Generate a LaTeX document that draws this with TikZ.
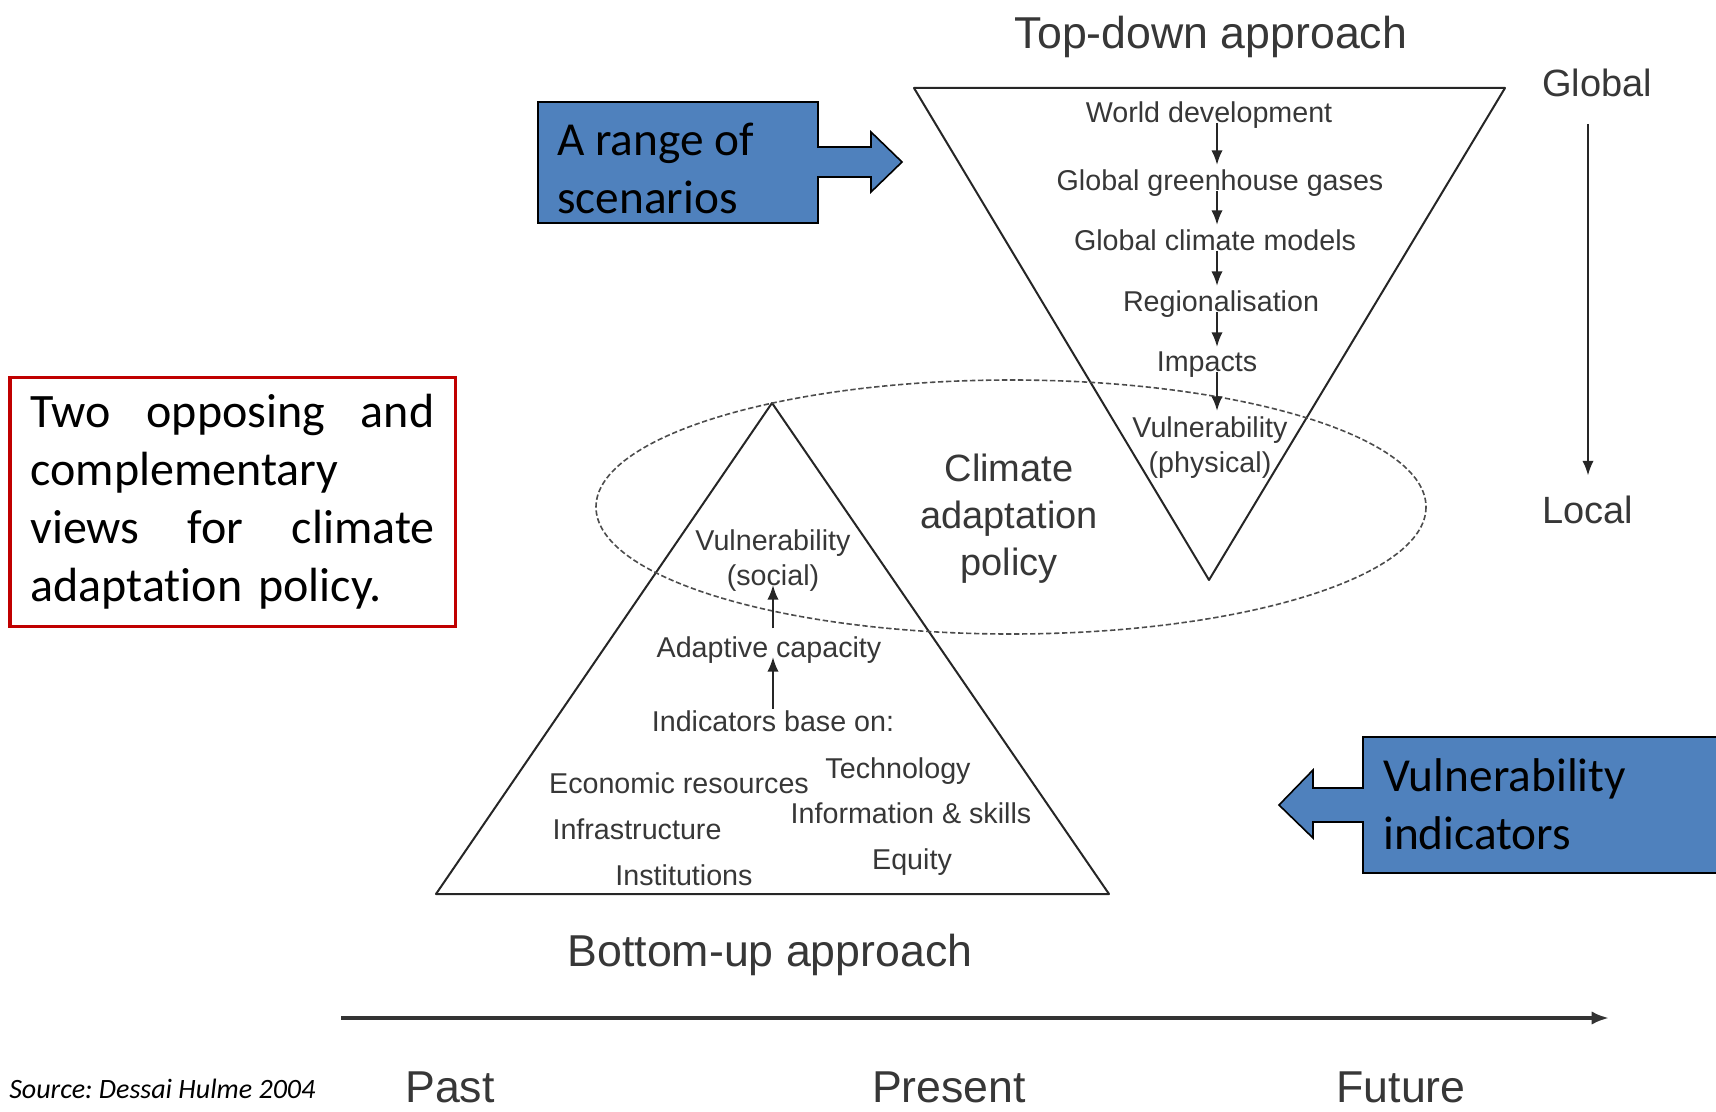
\documentclass[tikz,border=0pt]{standalone}
\usepackage{fontspec}
\setmainfont{Liberation Sans}
\newfontfamily\calibri[Ligatures=NoCommon]{Carlito}
\usepackage{tikz}
\usetikzlibrary{arrows.meta}

\definecolor{scanink}{RGB}{55,55,55}
\definecolor{boxblue}{RGB}{79,129,189}
\definecolor{boxred}{RGB}{192,0,0}

\begin{document}
\frenchspacing
\begin{tikzpicture}[x=0.75pt,y=0.75pt,yscale=-1,xscale=1,
  lab/.style={inner sep=0.75pt, text=scanink, font=\fontsize{21.5}{26}\selectfont},
  big/.style={inner sep=0.75pt, text=scanink, font=\fontsize{33.5}{40}\selectfont},
  mid/.style={inner sep=0.75pt, text=scanink, font=\fontsize{28.5}{35.3}\selectfont},
  flow/.style={-{Latex[length=11pt,width=8.5pt]}, line width=1.5pt, draw=black!85},
  callout/.style={fill=boxblue, draw=black, line width=1.2pt},
  note/.style={inner sep=0pt, align=left, font=\calibri\fontsize{35.5}{43.5}\selectfont},
  redbox/.style={draw=boxred, line width=2.5pt, minimum width=334pt, minimum height=187pt,
    text width=303pt, align=left, font=\calibri\fontsize{36}{43.5}\selectfont}
]
\useasboundingbox (0,0) rectangle (1716,1112);

%Shape: Triangle top-down
\draw [line width=1.5pt, black!85, line join=round] (914,88) -- (1505,88) -- (1209,580) -- cycle ;
%Shape: Triangle bottom-up
\draw [line width=1.5pt, black!85, line join=round] (772,403) -- (1109,894) -- (436,894) -- cycle ;
%Shape: Ellipse dashed
\draw [line width=1.2pt, black!70, dash pattern=on 4pt off 2pt] (1011,507) ellipse [x radius=415, y radius=127] ;

%Shape: Right arrow callout
\draw [callout] (538,102) -- (818,102) -- (818,147) -- (871,147) -- (871,132) -- (902,162) -- (871,192) -- (871,177) -- (818,177) -- (818,223) -- (538,223) -- cycle ;
%Shape: Left arrow callout
\draw [callout] (1363,737) -- (1725,737) -- (1725,873) -- (1363,873) -- (1363,822) -- (1313,822) -- (1313,838) -- (1279,805) -- (1313,770) -- (1313,788) -- (1363,788) -- cycle ;

% Text Node
\node [note, anchor=west] (scen) at (557,168) {A range of\\scenarios};
% Text Node
\node [note, anchor=west] (vind) at (1383,804) {Vulnerability\\indicators};
% Text Node
\node [redbox] (views) at (232.5,502) {Two\hfill opposing\hfill and\\complementary\\views\hfill for\hfill climate\\adaptation policy.};

% Text Node
\node [big, anchor=base] (tdown) at (1211,49) {Top-down approach};
\node [big, anchor=base] (bup) at (770,966) {Bottom-up approach};
\node [mid, anchor=base] (glob) at (1597,97) {Global};
\node [mid, anchor=base] (loc) at (1588,523) {Local};
\node [mid, align=center] (cap) at (1009,519) {Climate\\adaptation\\policy};

% Text Node: top-down chain
\coordinate (spine) at (1217,0);
\node [lab, anchor=base] (wd) at (1209,123) {World development};
\node [lab, anchor=base] (ggh) at (1220,191) {Global greenhouse gases};
\node [lab, anchor=base] (gcm) at (1215,251) {Global climate models};
\node [lab, anchor=base] (reg) at (1221,312) {Regionalisation};
\node [lab, anchor=base] (imp) at (1207,372) {Impacts};
\node [lab, anchor=base] (vph) at (1210,437) {Vulnerability};
\node [lab, anchor=base] (phy) at (1210,472) {(physical)};

\draw [flow, shorten >=3pt] (wd.base -| spine) -- (ggh.north -| spine) ;
\draw [flow, shorten >=3pt] (ggh.base -| spine) -- (gcm.north -| spine) ;
\draw [flow, shorten >=3pt] (gcm.base -| spine) -- (reg.north -| spine) ;
\draw [flow, shorten >=3pt] (reg.base -| spine) -- (imp.north -| spine) ;
\draw [flow, shorten >=3pt] (imp.base -| spine) -- (vph.north -| spine) ;

% Text Node: bottom-up chain
\coordinate (stem) at (773,0);
\node [lab, anchor=base] (vso) at (773,550) {Vulnerability};
\node [lab, anchor=base] (soc) at (773,585) {(social)};
\node [lab, anchor=base] (ac) at (769,657) {Adaptive capacity};
\node [lab, anchor=base] (ind) at (773,731) {Indicators base on:};
\node [lab, anchor=base] (eco) at (679,793) {Economic resources};
\node [lab, anchor=base] (tech) at (898,778) {Technology};
\node [lab, anchor=base] (infra) at (637,839) {Infrastructure};
\node [lab, anchor=base] (info) at (911,823) {Information \& skills};
\node [lab, anchor=base] (inst) at (684,885) {Institutions};
\node [lab, anchor=base] (eq) at (912,869) {Equity};

\draw [flow] (ind.north -| stem) -- (ac.base -| stem) ;
\draw [flow, shorten <=5pt] (ac.north -| stem) -- (soc.base -| stem) ;

%Straight Lines: global to local
\draw [flow, shorten <=19pt, shorten >=14pt] (loc.north |- glob.south) -- (loc.north) ;

%Straight Lines: time axis
\coordinate (t0) at (341,1018);
\coordinate (t1) at (1609,1018);
\draw [-{Latex[length=13pt,width=10pt]}, line width=3pt, black!80] (t0) -- (t1) ;

% Text Node
\node [big, anchor=base] (past) at (450,1102) {Past};
\node [big, anchor=base] (pres) at (949,1102) {Present};
\node [big, anchor=base] (fut) at (1401,1102) {Future};
\node [inner sep=0pt, anchor=base west, font=\calibri\itshape\fontsize{21}{25}\selectfont] (src) at (9,1098) {Source: Dessai Hulme 2004};

\end{tikzpicture}
\end{document}
